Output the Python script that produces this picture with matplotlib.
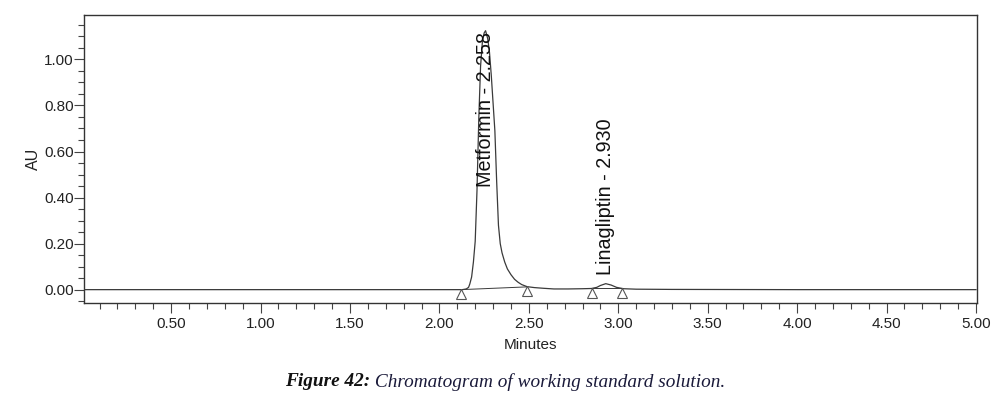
import matplotlib
matplotlib.use("Agg")
import matplotlib.pyplot as plt
from matplotlib.ticker import MultipleLocator, FixedLocator, FormatStrFormatter
from matplotlib.transforms import offset_copy

# ---- data ----
time_min = [0.013, 0.5, 1.0, 1.5, 2.0, 2.10, 2.128, 2.15, 2.163, 2.17, 2.18, 2.19,
            2.20, 2.21, 2.22, 2.23, 2.24, 2.25, 2.258, 2.27, 2.28, 2.29, 2.30,
            2.31, 2.32, 2.33, 2.34, 2.35, 2.365, 2.38, 2.40, 2.42, 2.44, 2.46,
            2.49, 2.53, 2.58, 2.64, 2.72, 2.80, 2.85, 2.88, 2.90, 2.93, 2.96,
            2.99, 3.03, 3.10, 3.30, 4.0, 4.5, 5.0]
absorbance = [0.0, 0.0, 0.0, 0.0, 0.0, 0.0, 0.0, 0.003, 0.01, 0.025, 0.055, 0.12,
              0.21, 0.43, 0.74, 0.97, 1.075, 1.115, 1.125, 1.09, 1.03, 0.93, 0.81,
              0.69, 0.47, 0.28, 0.20, 0.16, 0.12, 0.09, 0.065, 0.045, 0.032, 0.022,
              0.013, 0.009, 0.006, 0.003, 0.003, 0.004, 0.005, 0.010, 0.018, 0.026, 0.020,
              0.010, 0.004, 0.002, 0.001, 0.0, 0.0, 0.0]

peak_names = ["Metformin", "Linagliptin"]
peak_rt = [2.258, 2.930]
peak_start_t = [2.12, 2.855]
peak_start_y = [0.0, 0.005]
peak_end_t = [2.49, 3.02]
peak_end_y = [0.012, 0.005]

x_major = [0.5, 1.0, 1.5, 2.0, 2.5, 3.0, 3.5, 4.0, 4.5, 5.0]
y_major = [0.0, 0.2, 0.4, 0.6, 0.8, 1.0]

caption_bold = "Figure 42:"
caption_rest = " Chromatogram of working standard solution."

# label anchor heights (layout)
label_bottom = [0.447, 0.063]

fig = plt.figure(figsize=(9.97, 3.98), dpi=100)
ax = fig.add_axes([0.0843, 0.2387, 0.8957, 0.7236])

line_col = "#3a3a3a"
ax.plot(time_min, absorbance, color=line_col, lw=0.9, zorder=3)

# integration baselines
for ts, ys, te, ye in zip(peak_start_t, peak_start_y, peak_end_t, peak_end_y):
    ax.plot([ts, te], [ys, ye], color=line_col, lw=0.7, zorder=2)

# integration markers (open triangles just below trace)
tr = offset_copy(ax.transData, fig=fig, x=0, y=-3.2, units="points")
mt = peak_start_t + peak_end_t
my = peak_start_y + peak_end_y
ax.plot(mt, my, linestyle="none", marker="^", markersize=6.5, markerfacecolor="white",
        markeredgecolor="#555555", markeredgewidth=0.8, transform=tr, zorder=4)

for name, rt, lb in zip(peak_names, peak_rt, label_bottom):
    ax.text(rt, lb, f"{name} - {rt:.3f}", rotation=90, ha="center", va="bottom",
            fontsize=14.2, family="Liberation Sans", color="#111111", zorder=5)

ax.set_xlim(0.013, 5.006)
ax.set_ylim(-0.058, 1.193)

ax.xaxis.set_major_locator(FixedLocator(x_major))
ax.xaxis.set_minor_locator(MultipleLocator(0.1))
ax.yaxis.set_major_locator(FixedLocator(y_major))
ax.yaxis.set_minor_locator(MultipleLocator(0.05))
ax.xaxis.set_major_formatter(FormatStrFormatter("%.2f"))
ax.yaxis.set_major_formatter(FormatStrFormatter("%.2f"))

ax.tick_params(which="major", length=7, width=0.8, color="#444444",
               labelsize=11, labelcolor="#222222", direction="out")
ax.tick_params(axis="x", which="major", pad=3)
ax.tick_params(axis="y", which="major", pad=0.5)
ax.tick_params(which="minor", length=4, width=0.8, color="#444444", direction="out")
for lab in ax.get_xticklabels() + ax.get_yticklabels():
    lab.set_family("Liberation Sans")

for sp in ax.spines.values():
    sp.set_color("#333333")
    sp.set_linewidth(1.0)

ax.set_xlabel("Minutes", fontsize=11, family="Liberation Sans", color="#222222", labelpad=5)
ax.set_ylabel("AU", fontsize=11.5, family="Liberation Sans", color="#222222", labelpad=2)

t1 = fig.text(0.2858, 0.041, caption_bold, fontsize=13.9, family="Liberation Serif",
              style="italic", weight="bold", color="#111111", ha="left", va="center")
fig.canvas.draw()
bb = t1.get_window_extent(renderer=fig.canvas.get_renderer())
x_next = bb.x1 / fig.bbox.width
fig.text(x_next, 0.041, caption_rest, fontsize=13.9,
         family="Liberation Serif", style="italic", color="#1a1a3a", ha="left", va="center")

fig.savefig("out.png", dpi=100)
